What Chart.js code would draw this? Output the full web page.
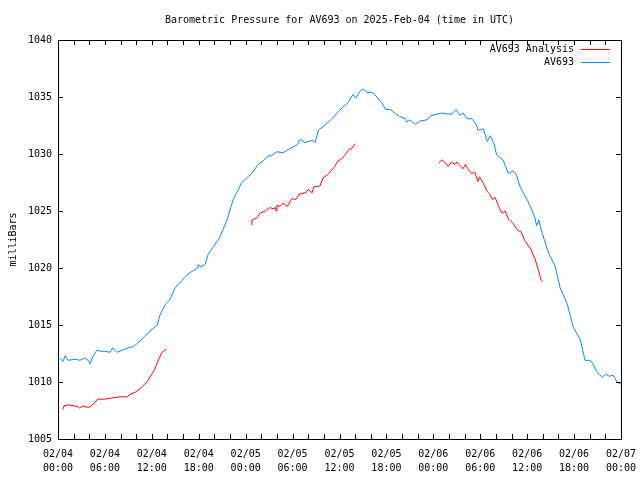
<!DOCTYPE html>
<html>
<head>
<meta charset="utf-8">
<script src="https://cdn.jsdelivr.net/npm/chart.js@4.4.1/dist/chart.umd.min.js"></script>
<style>
  body { margin:0; background:#fff; }
  canvas { display:block; }
</style>
</head>
<body>
<canvas id="chart" width="640" height="480"></canvas>
<script>
// Barometric pressure AV693, hours since 02/04 00:00 UTC
const TITLE = "Barometric Pressure for AV693 on 2025-Feb-04 (time in UTC)";
const Y_TITLE = "milliBars";

// measured station (blue)
const stationHours = [0.26,0.64,0.9,1.28,2.2,2.8,3.45,3.84,4.1,4.5,5.0,5.4,6.0,6.65,7.0,7.55,8.2,8.95,9.6,10.2,
  11.1,12.0,12.7,13.0,13.7,14.3,15.0,15.6,16.2,16.9,17.8,17.9,18.3,18.8,19.2,19.8,20.7,21.6,22.4,23.0,
  23.5,24.3,24.8,25.5,26.2,26.9,27.4,28.0,28.8,29.7,30.6,31.0,31.6,32.6,32.9,33.3,33.9,34.4,35.2,35.7,
  36.4,37.1,37.7,38.1,38.6,39.0,39.5,40.2,40.8,41.4,41.9,42.5,43.2,43.7,44.4,44.6,45.0,45.7,46.3,47.2,
  47.8,48.5,49.1,49.8,50.4,50.9,51.4,51.8,52.3,52.9,53.5,53.7,54.4,54.9,55.3,55.8,56.1,56.9,57.6,58.2,
  58.6,59.1,59.5,60.0,60.4,61.0,61.2,61.5,61.9,62.7,63.6,64.2,65.1,65.9,66.8,67.4,68.1,68.4,68.9,69.6,
  70.0,70.5,71.0,71.5,72.0];
const stationValues = [1012.1,1011.8,1012.3,1011.9,1012.0,1011.9,1012.1,1011.9,1011.6,1012.3,1012.8,1012.7,1012.7,1012.6,1013.0,1012.6,1012.8,1013.0,1013.1,1013.4,
  1014.0,1014.6,1015.0,1015.8,1016.8,1017.2,1018.3,1018.7,1019.2,1019.6,1020.0,1020.3,1020.1,1020.3,1021.2,1021.8,1022.7,1024.2,1026.0,1026.8,
  1027.5,1028.0,1028.3,1029.0,1029.4,1029.8,1029.9,1030.2,1030.1,1030.5,1030.8,1031.3,1031.0,1031.2,1031.0,1032.1,1032.4,1032.7,1033.2,1033.6,
  1034.1,1034.5,1035.2,1034.9,1035.5,1035.7,1035.4,1035.4,1035.0,1034.5,1033.9,1033.9,1033.5,1033.3,1033.1,1032.8,1033.0,1032.6,1032.9,1033.0,
  1033.4,1033.5,1033.6,1033.5,1033.5,1033.9,1033.4,1033.6,1033.1,1033.1,1032.6,1032.1,1032.2,1031.1,1031.6,1030.8,1029.9,1029.5,1028.3,1028.5,
  1028.2,1027.1,1026.6,1026.0,1025.4,1024.4,1023.7,1024.2,1023.1,1021.4,1020.1,1018.3,1016.9,1014.8,1013.7,1011.9,1011.9,1011.6,1010.9,1010.4,
  1010.7,1010.5,1010.6,1010.0,1009.8];

// analysis (red), null breaks the three runs
const analysisHours = [0.64,0.77,1.3,2.2,2.6,2.8,3.1,3.6,4.1,4.7,5.1,6.0,6.9,7.9,8.8,9.2,9.85,10.5,10.9,11.4,11.8,12.3,12.7,13.3,13.9,
  19,
  24.7,24.8,25.1,25.5,25.8,26.5,27.1,27.5,27.8,27.9,28.0,28.4,28.8,29.3,29.5,29.9,30.4,30.9,31.7,32.0,32.5,32.7,33.5,33.9,34.5,34.9,35.4,35.7,36.3,36.7,37.2,37.6,38.0,
  43,
  48.7,49.1,49.6,49.9,50.3,50.8,51.0,51.4,51.8,52.1,52.4,52.9,53.3,53.7,53.9,54.5,54.9,55.2,55.6,55.9,56.3,56.5,56.8,57.2,57.6,58.1,58.4,58.8,59.2,59.7,60.1,60.5,61.0,61.4,61.8,62.0];
const analysisValues = [1007.6,1007.9,1008.0,1007.9,1007.8,1007.7,1007.9,1007.8,1007.8,1008.2,1008.5,1008.5,1008.6,1008.7,1008.7,1008.9,1009.1,1009.4,1009.7,1010.0,1010.5,1011.0,1011.7,1012.6,1012.9,
  null,
  1023.8,1024.2,1024.3,1024.4,1024.8,1025.0,1025.3,1025.2,1025.3,1025.0,1025.5,1025.4,1025.7,1025.4,1025.6,1026.1,1026.0,1026.5,1026.6,1026.9,1026.6,1027.1,1027.2,1027.9,1028.2,1028.5,1028.9,1029.3,1029.6,1029.9,1030.4,1030.5,1030.9,
  null,
  1029.2,1029.5,1029.2,1028.9,1029.3,1029.1,1029.3,1029.0,1028.7,1029.1,1028.7,1028.3,1028.4,1027.6,1028.0,1027.3,1026.7,1026.5,1026.0,1026.2,1025.5,1025.2,1024.8,1025.0,1024.3,1024.0,1023.7,1023.3,1023.2,1022.4,1022.0,1021.6,1020.8,1019.9,1018.9,1018.8];

// axis labels every 6 hours
const xTickDates = ["02/04","02/04","02/04","02/04","02/05","02/05","02/05","02/05","02/06","02/06","02/06","02/06","02/07"];
const xTickTimes = ["00:00","06:00","12:00","18:00","00:00","06:00","12:00","18:00","00:00","06:00","12:00","18:00","00:00"];
const Y_MIN = 1005, Y_MAX = 1040, Y_STEP = 5;

const FONT = "DejaVu Sans Mono";

function pts(xs, ys) { return xs.map((x, i) => ({ x: x, y: ys[i] })); }

// gnuplot-ish frame: box, inward ticks, title, key
const frame = {
  id: "frame",
  afterDraw(chart) {
    const ctx = chart.ctx, a = chart.chartArea;
    const sx = chart.scales.x, sy = chart.scales.y;
    ctx.save();
    ctx.strokeStyle = "#000";
    ctx.lineWidth = 1;
    ctx.strokeRect(Math.round(a.left) + 0.5, Math.round(a.top) + 0.5,
      Math.round(a.right - a.left), Math.round(a.bottom - a.top));
    ctx.beginPath();
    sx.ticks.forEach(t => {
      const px = Math.round(sx.getPixelForValue(t.value)) + 0.5;
      ctx.moveTo(px, a.bottom); ctx.lineTo(px, a.bottom - 5);
      ctx.moveTo(px, a.top); ctx.lineTo(px, a.top + 5);
    });
    sy.ticks.forEach(t => {
      const py = Math.round(sy.getPixelForValue(t.value)) + 0.5;
      ctx.moveTo(a.left, py); ctx.lineTo(a.left + 5, py);
      ctx.moveTo(a.right, py); ctx.lineTo(a.right - 5, py);
    });
    ctx.stroke();

    ctx.fillStyle = "#000";
    ctx.font = "10px '" + FONT + "'";
    ctx.textAlign = "center";
    ctx.textBaseline = "middle";
    ctx.fillText(TITLE, (a.left + a.right) / 2, 20);

    ctx.save();
    ctx.translate(13, (a.top + a.bottom) / 2);
    ctx.rotate(-Math.PI / 2);
    ctx.fillText(Y_TITLE, 0, 0);
    ctx.restore();

    // key, top right
    ctx.textAlign = "right";
    chart.data.datasets.forEach((ds, i) => {
      const y = 49 + i * 13;
      ctx.fillText(ds.label, a.right - 47, y);
      ctx.strokeStyle = ds.borderColor;
      ctx.beginPath();
      ctx.moveTo(a.right - 40, y + 0.5);
      ctx.lineTo(a.right - 11, y + 0.5);
      ctx.stroke();
    });
    ctx.restore();
  }
};

function fixScale(w, h) {
  return function (scale) {
    if (w !== null) scale.width = w;
    if (h !== null) scale.height = h;
    scale.paddingLeft = scale.paddingRight = scale.paddingTop = scale.paddingBottom = 0;
  };
}

new Chart(document.getElementById("chart"), {
  type: "line",
  data: {
    datasets: [
      { label: "AV693 Analysis", data: pts(analysisHours, analysisValues), borderColor: "#ff0000",
        borderWidth: 1, pointRadius: 0, tension: 0, spanGaps: false },
      { label: "AV693", data: pts(stationHours, stationValues), borderColor: "#0a84ff",
        borderWidth: 1, pointRadius: 0, tension: 0 }
    ]
  },
  options: {
    responsive: false,
    animation: false,
    layout: { padding: { top: 40, right: 19, left: 0, bottom: 0 } },
    plugins: { legend: { display: false }, title: { display: false }, tooltip: { enabled: false } },
    scales: {
      x: {
        type: "linear", min: 0, max: 72,
        grid: { display: false, drawTicks: false },
        border: { display: false },
        afterFit: fixScale(null, 41),
        ticks: {
          stepSize: 2, autoSkip: false, maxRotation: 0, padding: 8, color: "#000",
          font: { family: FONT, size: 10, lineHeight: 1.4 },
          callback: v => (v % 6 === 0) ? [xTickDates[v / 6], xTickTimes[v / 6]] : ""
        }
      },
      y: {
        min: Y_MIN, max: Y_MAX,
        grid: { display: false, drawTicks: false },
        border: { display: false },
        afterFit: fixScale(58, null),
        ticks: { stepSize: Y_STEP, padding: 6, color: "#000", font: { family: FONT, size: 10 },
          callback: v => String(v) }
      }
    }
  },
  plugins: [frame]
});
</script>
</body>
</html>
